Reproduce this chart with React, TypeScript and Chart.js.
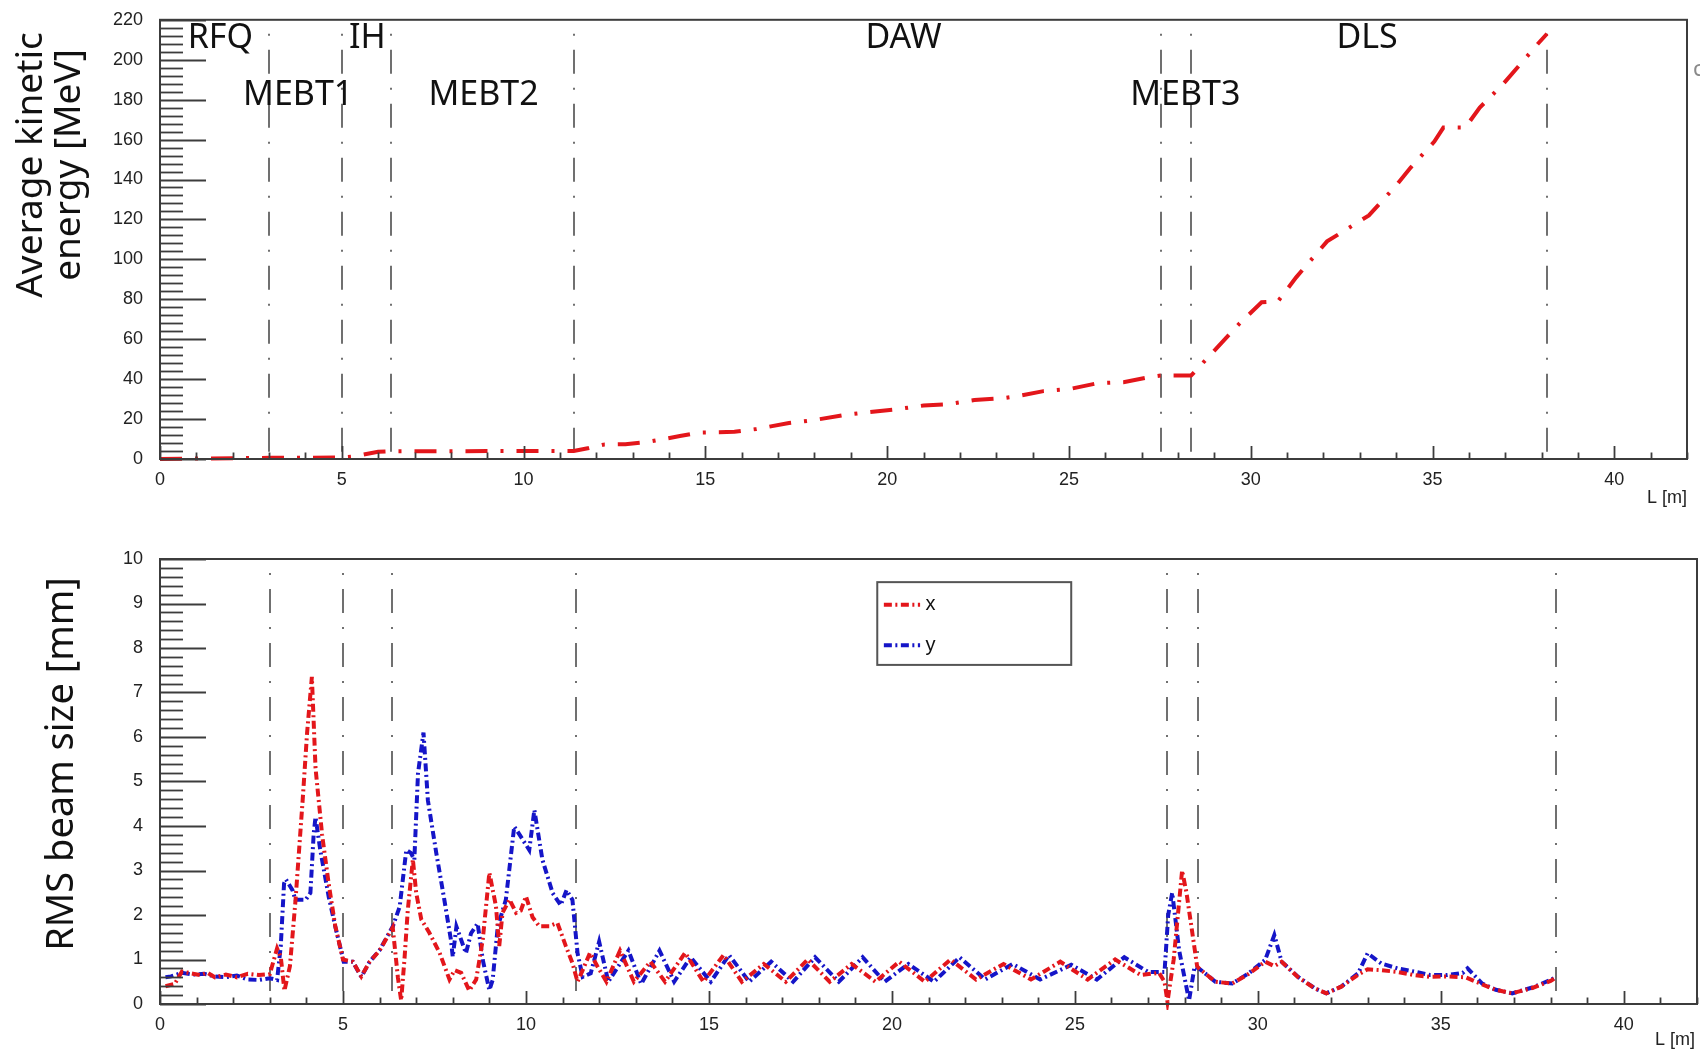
import React, { useEffect, useRef } from "react";
import { Chart, registerables } from "chart.js";

Chart.register(...registerables);

// ---------- data ----------
// Average kinetic energy along the linac
const energyL = [0, 3.0, 5.0, 5.3, 6.0, 6.35, 11.38, 11.8, 12.2, 12.8, 13.4, 14.3, 14.8, 15.8, 16.4, 17.3, 18.0, 18.8, 19.5, 20.3, 21.0, 21.7, 22.4, 23.2, 23.6, 24.3, 25.0, 25.8, 26.5, 27.2, 27.52, 28.36, 28.6, 29.7, 30.3, 30.75, 31.25, 32.1, 33.25, 34.0, 34.4, 35.05, 35.3, 35.9, 36.3, 36.95, 37.9, 38.15];
const energyMeV = [0.03, 0.6, 0.7, 1.2, 3.6, 3.9, 4.0, 5.5, 7.2, 7.4, 8.5, 11.5, 13.2, 13.6, 15.0, 18.0, 19.5, 22.0, 23.5, 25.0, 26.8, 27.5, 29.5, 30.5, 31.5, 34.0, 35.0, 38.0, 38.5, 41.0, 41.8, 41.8, 46.5, 68, 78.5, 79, 91, 109, 122, 137, 146, 159, 166, 166, 176, 188, 208, 213];

// RMS beam size, x plane
const sizeXL = [0.15, 0.4, 0.6, 0.9, 1.1, 1.3, 1.5, 1.8, 2.1, 2.4, 2.7, 3.0, 3.2, 3.3, 3.4, 3.55, 3.7, 3.9, 4.02, 4.15, 4.25, 4.43, 4.61, 4.79, 5.0, 5.27, 5.5, 5.73, 6.0, 6.36, 6.5, 6.59, 6.68, 6.77, 6.91, 7.0, 7.14, 7.36, 7.64, 7.91, 8.05, 8.23, 8.45, 8.64, 8.82, 9.0, 9.18, 9.27, 9.36, 9.55, 9.73, 9.86, 10.0, 10.18, 10.36, 10.64, 10.86, 11.09, 11.27, 11.41, 11.55, 11.75, 11.95, 12.2, 12.57, 12.95, 13.4, 13.8, 14.35, 14.85, 15.4, 15.9, 16.5, 17.1, 17.7, 18.3, 18.9, 19.55, 20.2, 20.9, 21.6, 22.3, 23.05, 23.8, 24.6, 25.35, 26.1, 26.8, 27.3, 27.45, 27.53, 27.7, 27.93, 28.05, 28.2, 28.34, 28.39, 28.84, 29.3, 29.75, 30.2, 30.45, 30.65, 31.1, 31.56, 31.87, 32.28, 32.74, 33.0, 33.37, 33.82, 34.27, 34.7, 35.18, 35.68, 36.13, 36.5, 36.95, 37.5, 38.0, 38.1];
const sizeX = [0.40, 0.45, 0.73, 0.68, 0.65, 0.70, 0.60, 0.66, 0.60, 0.68, 0.65, 0.67, 1.25, 1.06, 0.30, 0.85, 2.3, 4.6, 6.1, 7.35, 5.3, 3.8, 2.7, 1.75, 1.0, 0.95, 0.62, 0.95, 1.2, 1.72, 0.6, 0.08, 1.0, 2.1, 3.25, 2.5, 1.9, 1.6, 1.15, 0.55, 0.76, 0.70, 0.30, 0.55, 1.45, 2.95, 2.2, 1.3, 2.05, 2.35, 2.05, 2.1, 2.42, 1.95, 1.75, 1.75, 1.82, 1.3, 0.92, 0.5, 0.76, 1.15, 0.85, 0.5, 1.2, 0.5, 0.95, 0.5, 1.15, 0.5, 1.1, 0.5, 0.9, 0.5, 1.0, 0.5, 0.9, 0.5, 0.95, 0.5, 1.0, 0.55, 0.9, 0.55, 0.95, 0.55, 1.0, 0.65, 0.7, 0.5, 0.05, 1.0, 3.0, 2.5, 1.65, 0.85, 0.8, 0.5, 0.46, 0.68, 0.95, 0.85, 0.95, 0.6, 0.35, 0.24, 0.39, 0.66, 0.78, 0.76, 0.72, 0.65, 0.61, 0.62, 0.6, 0.44, 0.32, 0.24, 0.36, 0.52, 0.57];

// RMS beam size, y plane
const sizeYL = [0.15, 0.3, 0.6, 0.9, 1.2, 1.5, 1.8, 2.1, 2.4, 2.7, 3.0, 3.2, 3.3, 3.39, 3.44, 3.62, 3.7, 3.98, 4.11, 4.2, 4.25, 4.38, 4.61, 4.79, 5.02, 5.27, 5.5, 5.73, 6.0, 6.36, 6.55, 6.73, 6.86, 6.95, 7.05, 7.2, 7.32, 7.55, 7.77, 7.95, 8.0, 8.1, 8.23, 8.36, 8.5, 8.68, 8.82, 9.0, 9.09, 9.23, 9.45, 9.68, 9.86, 10.09, 10.23, 10.45, 10.73, 10.95, 11.11, 11.27, 11.41, 11.55, 11.77, 12.0, 12.25, 12.8, 13.15, 13.65, 14.05, 14.5, 15.05, 15.55, 16.1, 16.7, 17.3, 17.9, 18.55, 19.2, 19.8, 20.45, 21.15, 21.85, 22.55, 23.3, 24.05, 24.9, 25.6, 26.35, 27.0, 27.45, 27.55, 27.66, 27.85, 28.12, 28.27, 28.39, 28.84, 29.3, 29.75, 30.2, 30.45, 30.65, 31.1, 31.56, 31.87, 32.28, 32.74, 33.0, 33.37, 33.82, 34.27, 34.7, 35.18, 35.6, 35.73, 36.13, 36.5, 36.95, 37.5, 38.0, 38.1];
const sizeY = [0.6, 0.62, 0.7, 0.66, 0.68, 0.62, 0.6, 0.64, 0.55, 0.54, 0.58, 0.54, 1.3, 2.71, 2.8, 2.56, 2.34, 2.34, 2.5, 3.83, 4.2, 3.46, 2.41, 1.74, 0.95, 0.95, 0.61, 0.95, 1.21, 1.74, 2.19, 3.46, 3.39, 3.24, 5.18, 6.1, 4.58, 3.39, 2.34, 1.44, 1.06, 1.74, 1.44, 1.14, 1.59, 1.81, 0.99, 0.31, 0.54, 1.74, 2.34, 3.99, 3.76, 3.46, 4.36, 3.24, 2.49, 2.22, 2.56, 2.34, 1.14, 0.61, 0.69, 1.4, 0.5, 1.2, 0.45, 1.2, 0.5, 1.05, 0.5, 1.1, 0.5, 0.95, 0.5, 1.05, 0.5, 1.05, 0.5, 0.9, 0.5, 1.05, 0.55, 0.9, 0.55, 0.88, 0.55, 1.05, 0.72, 0.72, 2.0, 2.5, 1.2, 0.08, 0.84, 0.8, 0.5, 0.46, 0.69, 0.99, 1.55, 0.95, 0.61, 0.35, 0.24, 0.39, 0.69, 1.14, 0.91, 0.8, 0.73, 0.65, 0.65, 0.7, 0.8, 0.46, 0.32, 0.24, 0.37, 0.54, 0.59];

// section boundaries [m] and section labels
const boundaries = [3.0, 5.0, 6.35, 11.38, 27.52, 28.36, 38.15];
const sectionNames = ["RFQ", "IH", "DAW", "DLS", "MEBT1", "MEBT2", "MEBT3"];
const sectionLabelL = [1.66, 5.7, 20.45, 33.2, 3.8, 8.9, 28.2];
const sectionLabelE = [210.5, 210.5, 210.5, 210.5, 182, 182, 182];

const seriesNames = ["x", "y"];
const xAxisTitle = "L [m]";
const energyTitle = ["Average kinetic", "energy [MeV]"];
const sizeTitle = "RMS beam size [mm]";

// ---------- styles ----------
const RED = "#e3161b";
const BLUE = "#1515c8";
const FRAME = "#3c3c3c";
const TICKFONT = "'Liberation Sans', Arial, sans-serif";
const LABELFONT = "'Noto Sans', 'DejaVu Sans', sans-serif";

function drawBoundaries(chart: any) {
  const { ctx, chartArea: a, scales } = chart;
  ctx.save();
  ctx.strokeStyle = "#707070";
  ctx.lineWidth = 2;
  ctx.setLineDash([24, 14, 2, 14]);
  ctx.lineDashOffset = 24;
  for (const b of boundaries) {
    const px = Math.round(scales.x.getPixelForValue(b));
    ctx.beginPath();
    ctx.moveTo(px, a.top);
    ctx.lineTo(px, a.bottom);
    ctx.stroke();
  }
  ctx.restore();
}

function drawFrameAndTicks(chart: any, xLen: number, yLen: number) {
  const { ctx, chartArea: a, scales } = chart;
  const xs = scales.x;
  const ys = scales.y;
  ctx.save();
  ctx.setLineDash([]);
  ctx.strokeStyle = FRAME;
  ctx.lineWidth = 2;
  ctx.strokeRect(a.left, a.top, a.right - a.left, a.bottom - a.top);
  ctx.lineWidth = 1.8;
  const yv = ys.ticks.map((t: any) => t.value);
  const yStep = yv[1] - yv[0];
  for (let v = ys.min; v <= ys.max + 1e-9; v += yStep / 5) {
    const isMajor = Math.abs(((v - ys.min) / yStep) - Math.round((v - ys.min) / yStep)) < 1e-6;
    const py = Math.round(ys.getPixelForValue(v)) + 0.5;
    ctx.beginPath();
    ctx.moveTo(a.left, py);
    ctx.lineTo(a.left + (isMajor ? yLen : yLen / 2), py);
    ctx.stroke();
  }
  const xv = xs.ticks.map((t: any) => t.value);
  const xStep = xv[1] - xv[0];
  for (let v = xs.min; v <= xs.max + 1e-9; v += xStep / 5) {
    const isMajor = Math.abs((v / xStep) - Math.round(v / xStep)) < 1e-6;
    const px = Math.round(xs.getPixelForValue(v)) + 0.5;
    ctx.beginPath();
    ctx.moveTo(px, a.bottom);
    ctx.lineTo(px, a.bottom - (isMajor ? xLen : xLen / 2));
    ctx.stroke();
  }
  ctx.restore();
}

function drawRotated(ctx: any, text: string, x: number, y: number, font: string) {
  ctx.save();
  ctx.translate(x, y);
  ctx.rotate(-Math.PI / 2);
  ctx.font = font;
  ctx.fillStyle = "#111";
  ctx.textAlign = "center";
  ctx.textBaseline = "middle";
  ctx.fillText(text, 0, 0);
  ctx.restore();
}

const topPlugin = {
  id: "topDecor",
  beforeDatasetsDraw(chart: any) {
    drawBoundaries(chart);
  },
  afterDatasetsDraw(chart: any) {
    const { ctx, chartArea: a, scales } = chart;
    drawFrameAndTicks(chart, 13, 46);
    ctx.save();
    ctx.fillStyle = "#111";
    ctx.font = `34px ${LABELFONT}`;
    ctx.textAlign = "center";
    ctx.textBaseline = "middle";
    sectionNames.forEach((n, i) => {
      ctx.fillText(n, scales.x.getPixelForValue(sectionLabelL[i]), scales.y.getPixelForValue(sectionLabelE[i]));
    });
    ctx.font = `18px ${TICKFONT}`;
    ctx.fillStyle = "#222";
    ctx.textAlign = "right";
    ctx.fillText(xAxisTitle, a.right, 498);
    // clipped glyph at the right margin
    ctx.fillStyle = "#8a8a8a";
    ctx.font = `22px ${LABELFONT}`;
    ctx.textAlign = "left";
    ctx.fillText("c", 1693, 70);
    ctx.restore();
    drawRotated(ctx, energyTitle[0], 31, 165, `37px ${LABELFONT}`);
    drawRotated(ctx, energyTitle[1], 69, 165, `37px ${LABELFONT}`);
  },
};

const bottomPlugin = {
  id: "bottomDecor",
  beforeDatasetsDraw(chart: any) {
    drawBoundaries(chart);
  },
  afterDatasetsDraw(chart: any) {
    const { ctx, chartArea: a, scales } = chart;
    const xs = scales.x;
    const ys = scales.y;
    drawFrameAndTicks(chart, 13, 46);
    const l0 = xs.getPixelForValue(19.6);
    const l1 = xs.getPixelForValue(24.9);
    const t0 = ys.getPixelForValue(9.48);
    const t1 = ys.getPixelForValue(7.62);
    ctx.save();
    ctx.fillStyle = "#fff";
    ctx.fillRect(l0, t0, l1 - l0, t1 - t0);
    ctx.strokeStyle = "#555";
    ctx.lineWidth = 2;
    ctx.setLineDash([]);
    ctx.strokeRect(l0, t0, l1 - l0, t1 - t0);
    const rows = [8.97, 8.06];
    chart.data.datasets.forEach((ds: any, i: number) => {
      const py = ys.getPixelForValue(rows[i]);
      ctx.strokeStyle = ds.borderColor;
      ctx.lineWidth = ds.borderWidth;
      ctx.setLineDash(ds.borderDash);
      ctx.beginPath();
      ctx.moveTo(xs.getPixelForValue(19.78), py);
      ctx.lineTo(xs.getPixelForValue(20.77), py);
      ctx.stroke();
      ctx.setLineDash([]);
      ctx.fillStyle = "#111";
      ctx.font = `20px ${TICKFONT}`;
      ctx.textAlign = "left";
      ctx.textBaseline = "middle";
      ctx.fillText(ds.label, xs.getPixelForValue(20.92), py);
    });
    ctx.font = `18px ${TICKFONT}`;
    ctx.fillStyle = "#222";
    ctx.textAlign = "right";
    ctx.textBaseline = "middle";
    ctx.fillText(xAxisTitle, a.right - 2, 530);
    ctx.restore();
    drawRotated(ctx, sizeTitle, 62, 254, `38px ${LABELFONT}`);
  },
};

function axisX(h: number) {
  return {
    type: "linear" as const,
    min: 0,
    max: 42,
    grid: { display: false },
    border: { display: false },
    ticks: {
      stepSize: 5,
      includeBounds: false,
      maxRotation: 0,
      autoSkip: false,
      padding: 2,
      color: "#222",
      font: { family: TICKFONT, size: 18 },
    },
    afterFit: (s: any) => {
      s.height = h;
    },
  };
}

function axisY(max: number, step: number) {
  return {
    type: "linear" as const,
    min: 0,
    max,
    grid: { display: false },
    border: { display: false },
    ticks: {
      stepSize: step,
      padding: 9,
      color: "#222",
      font: { family: TICKFONT, size: 18 },
    },
    afterFit: (s: any) => {
      s.width = 160;
    },
  };
}

export default function App() {
  const topRef = useRef<HTMLCanvasElement>(null);
  const botRef = useRef<HTMLCanvasElement>(null);

  useEffect(() => {
    const top = new Chart(topRef.current as HTMLCanvasElement, {
      type: "line",
      data: {
        datasets: [
          {
            label: "energy",
            data: energyL.map((l, i) => ({ x: l, y: energyMeV[i] })),
            borderColor: RED,
            borderWidth: 4,
            borderDash: [22, 13, 3, 13],
            pointRadius: 0,
            tension: 0,
            fill: false,
            clip: 6,
          },
        ],
      },
      options: {
        animation: false,
        responsive: false,
        devicePixelRatio: 1,
        events: [],
        layout: { autoPadding: false, padding: { left: 0, right: 13, top: 16, bottom: 0 } },
        plugins: { legend: { display: false }, tooltip: { enabled: false } },
        scales: { x: axisX(51), y: axisY(220, 20) },
      } as any,
      plugins: [topPlugin],
    });

    const bottom = new Chart(botRef.current as HTMLCanvasElement, {
      type: "line",
      data: {
        datasets: [
          {
            label: seriesNames[0],
            data: sizeXL.map((l, i) => ({ x: l, y: sizeX[i] })),
            borderColor: RED,
            borderWidth: 4,
            borderDash: [8, 3.5, 2, 3.5],
            pointRadius: 0,
            tension: 0,
            fill: false,
            clip: 6,
          },
          {
            label: seriesNames[1],
            data: sizeYL.map((l, i) => ({ x: l, y: sizeY[i] })),
            borderColor: BLUE,
            borderWidth: 4,
            borderDash: [8, 3.5, 2, 3.5],
            pointRadius: 0,
            tension: 0,
            fill: false,
            clip: 6,
          },
        ],
      },
      options: {
        animation: false,
        responsive: false,
        devicePixelRatio: 1,
        events: [],
        layout: { autoPadding: false, padding: { left: 0, right: 3, top: 49, bottom: 0 } },
        plugins: { legend: { display: false }, tooltip: { enabled: false } },
        scales: { x: axisX(47), y: axisY(10, 1) },
      } as any,
      plugins: [bottomPlugin],
    });

    return () => {
      top.destroy();
      bottom.destroy();
    };
  }, []);

  return (
    <div style={{ position: "absolute", left: 0, top: 0, width: 1700, height: 1051, background: "#fff", overflow: "hidden" }}>
      <canvas ref={topRef} width={1700} height={510} style={{ position: "absolute", left: 0, top: 0, width: 1700, height: 510 }} />
      <canvas ref={botRef} width={1700} height={541} style={{ position: "absolute", left: 0, top: 510, width: 1700, height: 541 }} />
    </div>
  );
}
